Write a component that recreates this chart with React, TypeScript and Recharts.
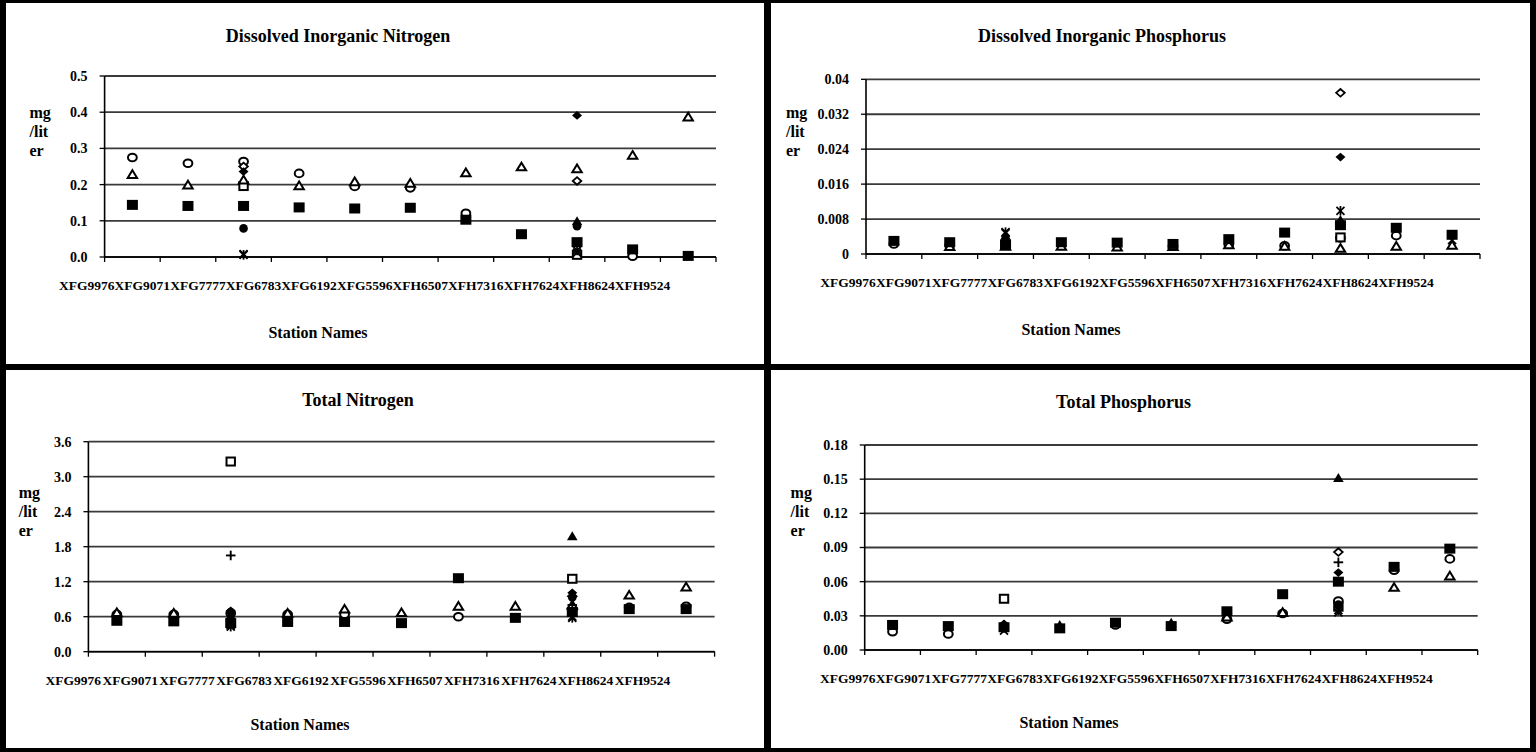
import { ScatterChart, Scatter, XAxis, YAxis, CartesianGrid } from 'recharts';

const stations = ['XFG9976', 'XFG9071', 'XFG7777', 'XFG6783', 'XFG6192', 'XFG5596', 'XFH6507', 'XFH7316', 'XFH7624', 'XFH8624', 'XFH9524'];

// Dissolved Inorganic Nitrogen (mg/liter), one array per sampling marker
const dinSquare = [0.144, 0.141, 0.141, 0.137, 0.134, 0.136, 0.103, 0.063, 0.041, 0.021, 0.003];
const dinCircle = [0.275, 0.259, 0.264, 0.231, 0.195, 0.191, 0.121, null, null, 0.002, null];
const dinTriangle = [0.228, 0.199, 0.213, 0.197, 0.208, 0.204, 0.233, 0.249, 0.244, 0.281, 0.387];
const dinDiamond = [null, null, 0.236, null, null, null, null, null, 0.391, null, null];
const dinOpenDiamond = [null, null, 0.25, null, null, null, null, null, 0.21, null, null];
const dinFilledTriangle = [null, null, null, null, null, null, null, null, 0.099, null, null];
const dinFilledCircle = [null, null, 0.079, null, null, null, null, null, 0.085, null, null];
const dinOpenSquare = [null, null, 0.196, null, null, null, null, null, 0.006, null, null];
const dinCross = [null, null, 0.008, null, null, null, null, null, 0.012, null, null];
const dinAsterisk = [null, null, 0.006, null, null, null, null, null, 0.018, null, null];

// Dissolved Inorganic Phosphorus
const dipSquare = [0.003, 0.0027, 0.0021, 0.0027, 0.0026, 0.0023, 0.0034, 0.0049, 0.0066, 0.006, 0.0044];
const dipCircle = [0.0023, 0.002, null, null, null, 0.0018, 0.0022, 0.0019, 0.0037, 0.0042, null];
const dipTriangle = [null, 0.0017, 0.0018, 0.0018, 0.0016, 0.0017, 0.0021, 0.0018, 0.0013, 0.0018, 0.002];
const dipDiamond = [null, null, 0.003, null, null, null, null, null, 0.0222, null, null];
const dipOpenDiamond = [null, null, null, null, null, null, null, null, 0.0369, null, null];
const dipFilledTriangle = [null, null, 0.0042, null, null, null, null, null, 0.0078, null, null];
const dipFilledCircle = [null, null, 0.0025, null, null, null, null, null, 0.007, null, null];
const dipOpenSquare = [null, null, 0.0022, null, null, null, null, null, 0.0038, null, null];
const dipCross = [null, null, 0.0048, null, null, null, null, null, null, null, 0.0032];
const dipAsterisk = [null, null, 0.005, null, null, null, null, null, 0.0099, null, null];

// Total Nitrogen
const tnSquare = [0.53, 0.52, 0.49, 0.51, 0.51, 0.49, 1.26, 0.58, 0.68, 0.73, 0.73];
const tnCircle = [0.64, 0.64, 0.66, 0.64, 0.64, null, 0.6, null, 0.72, 0.76, 0.78];
const tnTriangle = [0.67, 0.66, null, 0.66, 0.73, 0.67, 0.78, 0.78, 0.8, 0.97, 1.11];
const tnDiamond = [null, null, 0.7, null, null, null, null, null, 1.01, null, null];
const tnOpenDiamond = [null, null, null, null, null, null, null, null, 0.95, null, null];
const tnFilledTriangle = [null, null, 0.62, null, null, null, null, null, 1.98, null, null];
const tnFilledCircle = [null, null, 0.68, null, null, null, null, null, 0.93, null, null];
const tnOpenSquare = [null, null, 3.26, null, null, null, null, null, 1.25, null, null];
const tnCross = [null, null, 0.45, null, null, null, null, null, 0.6, null, null];
const tnAsterisk = [null, null, 0.43, null, null, null, null, null, 0.58, null, null];
const tnPlus = [null, null, 1.65, null, null, null, null, null, 0.8, null, null];

// Total Phosphorus
const tpSquare = [0.022, 0.021, 0.02, 0.019, 0.024, 0.021, 0.034, 0.049, 0.06, 0.073, 0.089];
const tpCircle = [0.016, 0.014, null, null, 0.022, null, 0.027, 0.032, 0.043, 0.07, 0.08];
const tpTriangle = [null, null, null, null, null, null, 0.029, 0.033, null, 0.055, 0.065];
const tpDiamond = [null, null, 0.023, null, null, null, null, null, 0.068, null, null];
const tpOpenDiamond = [null, null, null, null, null, null, null, null, 0.086, null, null];
const tpFilledTriangle = [null, null, 0.022, 0.022, null, 0.024, null, null, 0.151, null, null];
const tpFilledCircle = [null, null, 0.019, null, null, null, null, null, 0.04, null, null];
const tpOpenSquare = [null, null, 0.045, null, null, null, null, null, 0.038, null, null];
const tpCross = [null, null, 0.017, null, null, null, null, null, 0.033, null, null];
const tpAsterisk = [null, null, null, null, null, null, null, null, 0.035, null, null];
const tpPlus = [null, null, null, null, null, null, null, null, 0.077, null, null];

const dinTicks = [0, 0.1, 0.2, 0.3, 0.4, 0.5];
const dipTicks = [0, 0.008, 0.016, 0.024, 0.032, 0.04];
const tnTicks = [0, 0.6, 1.2, 1.8, 2.4, 3.0, 3.6];
const tpTicks = [0, 0.03, 0.06, 0.09, 0.12, 0.15, 0.18];

const FONT = '"Liberation Serif", "Times New Roman", serif';

type Kind = 'sq' | 'ci' | 'tr' | 'di' | 'odi' | 'ftr' | 'fci' | 'osq' | 'x' | 'ast' | 'plus';

function Marker({ cx, cy, kind }: { cx: number; cy: number; kind: Kind }) {
  if (cx == null || cy == null) return <g />;
  const k = '#000';
  switch (kind) {
    case 'sq':
      return <rect x={cx - 5.5} y={cy - 5} width={11} height={10} fill={k} />;
    case 'osq':
      return <rect x={cx - 4.2} y={cy - 4} width={8.4} height={8} fill="#fff" stroke={k} strokeWidth={2} />;
    case 'ci':
      return <ellipse cx={cx} cy={cy} rx={4.4} ry={3.8} fill="#fff" stroke={k} strokeWidth={2} />;
    case 'fci':
      return <circle cx={cx} cy={cy} r={4.3} fill={k} />;
    case 'tr':
      return <path d={`M${cx},${cy - 4.2}L${cx + 4.7},${cy + 3.5}L${cx - 4.7},${cy + 3.5}Z`} fill="#fff" stroke={k} strokeWidth={2} />;
    case 'ftr':
      return <path d={`M${cx},${cy - 5}L${cx + 5.3},${cy + 4}L${cx - 5.3},${cy + 4}Z`} fill={k} />;
    case 'di':
      return <path d={`M${cx},${cy - 4.4}L${cx + 5},${cy}L${cx},${cy + 4.4}L${cx - 5},${cy}Z`} fill={k} />;
    case 'odi':
      return <path d={`M${cx},${cy - 3.8}L${cx + 4.3},${cy}L${cx},${cy + 3.8}L${cx - 4.3},${cy}Z`} fill="#fff" stroke={k} strokeWidth={1.8} />;
    case 'x':
      return (
        <g stroke={k} strokeWidth={1.8}>
          <line x1={cx - 4} y1={cy - 4} x2={cx + 4} y2={cy + 4} />
          <line x1={cx - 4} y1={cy + 4} x2={cx + 4} y2={cy - 4} />
        </g>
      );
    case 'ast':
      return (
        <g stroke={k} strokeWidth={1.8}>
          <line x1={cx - 4} y1={cy - 4} x2={cx + 4} y2={cy + 4} />
          <line x1={cx - 4} y1={cy + 4} x2={cx + 4} y2={cy - 4} />
          <line x1={cx} y1={cy - 4.8} x2={cx} y2={cy + 4.8} />
        </g>
      );
    case 'plus':
      return (
        <g stroke={k} strokeWidth={1.9}>
          <line x1={cx - 4.8} y1={cy} x2={cx + 4.8} y2={cy} />
          <line x1={cx} y1={cy - 4.8} x2={cx} y2={cy + 4.8} />
        </g>
      );
  }
  return <g />;
}

type Series = { kind: Kind; values: (number | null)[] };

const dinSeries: Series[] = [
  { kind: 'ci', values: dinCircle },
  { kind: 'odi', values: dinOpenDiamond },
  { kind: 'osq', values: dinOpenSquare },
  { kind: 'tr', values: dinTriangle },
  { kind: 'di', values: dinDiamond },
  { kind: 'ftr', values: dinFilledTriangle },
  { kind: 'fci', values: dinFilledCircle },
  { kind: 'x', values: dinCross },
  { kind: 'ast', values: dinAsterisk },
  { kind: 'sq', values: dinSquare },
];
const dipSeries: Series[] = [
  { kind: 'ci', values: dipCircle },
  { kind: 'odi', values: dipOpenDiamond },
  { kind: 'osq', values: dipOpenSquare },
  { kind: 'tr', values: dipTriangle },
  { kind: 'di', values: dipDiamond },
  { kind: 'ftr', values: dipFilledTriangle },
  { kind: 'fci', values: dipFilledCircle },
  { kind: 'x', values: dipCross },
  { kind: 'ast', values: dipAsterisk },
  { kind: 'sq', values: dipSquare },
];
const tnSeries: Series[] = [
  { kind: 'ci', values: tnCircle },
  { kind: 'odi', values: tnOpenDiamond },
  { kind: 'osq', values: tnOpenSquare },
  { kind: 'tr', values: tnTriangle },
  { kind: 'di', values: tnDiamond },
  { kind: 'ftr', values: tnFilledTriangle },
  { kind: 'fci', values: tnFilledCircle },
  { kind: 'x', values: tnCross },
  { kind: 'ast', values: tnAsterisk },
  { kind: 'plus', values: tnPlus },
  { kind: 'sq', values: tnSquare },
];
const tpSeries: Series[] = [
  { kind: 'ci', values: tpCircle },
  { kind: 'odi', values: tpOpenDiamond },
  { kind: 'osq', values: tpOpenSquare },
  { kind: 'tr', values: tpTriangle },
  { kind: 'di', values: tpDiamond },
  { kind: 'ftr', values: tpFilledTriangle },
  { kind: 'fci', values: tpFilledCircle },
  { kind: 'x', values: tpCross },
  { kind: 'ast', values: tpAsterisk },
  { kind: 'plus', values: tpPlus },
  { kind: 'sq', values: tpSquare },
];

const boundaryTicks = stations.map((_, i) => i - 0.5).concat([stations.length - 0.5]);

type PanelProps = {
  title: string;
  series: Series[];
  ticks: number[];
  fmt: (v: number) => string;
  left: number;
  top: number;
  width: number;
  height: number;
  plot: { l: number; t: number; r: number; b: number };
  labelShift: number;
  titleX: number;
  titleY: number;
  unitX: number;
  unitY: number;
  nameX: number;
  nameY: number;
};

const Y_W = 70;
const X_H = 40;

function Panel(p: PanelProps) {
  const bandW = (p.plot.r - p.plot.l) / stations.length;
  const StationTick = (props: any) => {
    const i = Math.round(props.payload.value + 0.5);
    if (i < 0 || i >= stations.length) return <g />;
    return (
      <text
        x={props.x + bandW / 2 + p.labelShift}
        y={p.plot.b + 28.5}
        textAnchor="middle"
        dominantBaseline="central"
        fontFamily={FONT}
        fontWeight="bold"
        fontSize={13.5}
        fill="#000"
      >
        {stations[i]}
      </text>
    );
  };
  const textStyle = { position: 'absolute' as const, fontFamily: FONT, fontWeight: 'bold' as const, color: '#000', whiteSpace: 'nowrap' as const };
  return (
    <div style={{ position: 'absolute', left: p.left, top: p.top, width: p.width, height: p.height, background: '#fff' }}>
      <ScatterChart
        width={p.width}
        height={p.height}
        margin={{ top: p.plot.t, right: p.width - p.plot.r, bottom: p.height - p.plot.b - X_H, left: p.plot.l - Y_W }}
      >
        <CartesianGrid vertical={false} stroke="#3a3a3a" strokeWidth={1.8} />
        <XAxis
          type="number"
          dataKey="x"
          domain={[-0.5, stations.length - 0.5]}
          ticks={boundaryTicks}
          interval={0}
          height={X_H}
          tickSize={5}
          axisLine={{ stroke: '#000', strokeWidth: 1.6 }}
          tickLine={{ stroke: '#000', strokeWidth: 1.3 }}
          tick={StationTick}
        />
        <YAxis
          type="number"
          dataKey="y"
          domain={[p.ticks[0], p.ticks[p.ticks.length - 1]]}
          ticks={p.ticks}
          interval={0}
          width={Y_W}
          tickSize={5}
          tickMargin={12}
          tickFormatter={p.fmt}
          axisLine={{ stroke: '#000', strokeWidth: 1.6 }}
          tickLine={{ stroke: '#000', strokeWidth: 1.3 }}
          tick={{ fontFamily: FONT, fontWeight: 'bold', fontSize: 14, fill: '#000' }}
        />
        {p.series.map((s, si) => (
          <Scatter
            key={si}
            data={s.values.map((v, i) => (v == null ? null : { x: i, y: v })).filter((d) => d != null)}
            isAnimationActive={false}
            shape={(props: any) => <Marker cx={props.cx} cy={props.cy} kind={s.kind} />}
          />
        ))}
      </ScatterChart>
      <div style={{ ...textStyle, left: p.titleX, top: p.titleY, transform: 'translate(-50%, -50%)', fontSize: 18 }}>{p.title}</div>
      <div style={{ ...textStyle, left: p.unitX, top: p.unitY, fontSize: 16, lineHeight: '19px' }}>
        mg
        <br />
        /lit
        <br />
        er
      </div>
      <div style={{ ...textStyle, left: p.nameX, top: p.nameY, transform: 'translate(-50%, -50%)', fontSize: 16 }}>Station Names</div>
    </div>
  );
}

export default function App() {
  return (
    <div style={{ position: 'absolute', left: 0, top: 0, width: 1536, height: 752, background: '#000', overflow: 'hidden' }}>
      <Panel
        title="Dissolved Inorganic Nitrogen"
        series={dinSeries}
        ticks={dinTicks}
        fmt={(v) => v.toFixed(1)}
        left={6}
        top={3}
        width={758}
        height={361}
        plot={{ l: 98.6, t: 73, r: 710, b: 254 }}
        labelShift={-45.6}
        titleX={332}
        titleY={33}
        unitX={23.5}
        unitY={100}
        nameX={312}
        nameY={330}
      />
      <Panel
        title="Dissolved Inorganic Phosphorus"
        series={dipSeries}
        ticks={dipTicks}
        fmt={(v) => (v === 0 ? '0' : String(+v.toFixed(3)))}
        left={771}
        top={3}
        width={759}
        height={361}
        plot={{ l: 95, t: 76.3, r: 709, b: 251 }}
        labelShift={-46}
        titleX={331}
        titleY={33}
        unitX={15}
        unitY={100}
        nameX={300}
        nameY={327}
      />
      <Panel
        title="Total Nitrogen"
        series={tnSeries}
        ticks={tnTicks}
        fmt={(v) => v.toFixed(1)}
        left={6}
        top={370}
        width={758}
        height={378}
        plot={{ l: 82.4, t: 71.7, r: 708.6, b: 281.7 }}
        labelShift={-43.6}
        titleX={352}
        titleY={30}
        unitX={12.7}
        unitY={113}
        nameX={294}
        nameY={355}
      />
      <Panel
        title="Total Phosphorus"
        series={tpSeries}
        ticks={tpTicks}
        fmt={(v) => v.toFixed(2)}
        left={771}
        top={370}
        width={759}
        height={378}
        plot={{ l: 93.7, t: 75, r: 706.7, b: 280 }}
        labelShift={-44.8}
        titleX={352.5}
        titleY={31.7}
        unitX={19.6}
        unitY={113}
        nameX={298}
        nameY={353}
      />
    </div>
  );
}
